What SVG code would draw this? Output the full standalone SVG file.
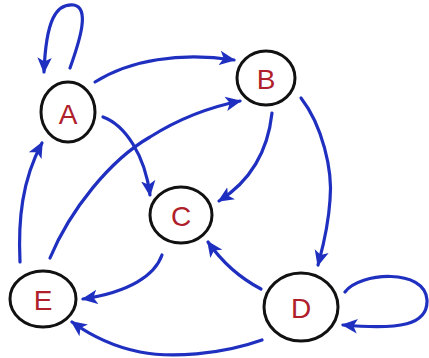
<svg xmlns="http://www.w3.org/2000/svg" width="429" height="358" viewBox="0 0 429 358">
<style>
.node ellipse{fill:none;stroke:#111;stroke-width:3}
.node text{font-family:"Liberation Sans",Arial,sans-serif;font-size:28px;fill:#b0202a;text-anchor:middle;dominant-baseline:central}
.edge{fill:none;stroke:#1f2fc0;stroke-width:3.2;stroke-linecap:round;marker-end:url(#ah)}
</style>
<defs>
<marker id="ah" viewBox="0 0 10 10" refX="9" refY="5" markerWidth="16" markerHeight="16" markerUnits="userSpaceOnUse" orient="auto">
<path d="M0,0.5 L10,5 L0,9.5 L2.5,5 z" fill="#1f2fc0"/>
</marker>
</defs>
<rect width="429" height="358" fill="#fff"/>
<g id="connectors">
<path class="edge" d="M70,68 C80,40 90,8 74,5 C56,3 46,20 44,72"/>
<path class="edge" d="M95,82 C130,60 180,52 234,60"/>
<path class="edge" d="M50,258 C70,210 110,160 150,137 C180,118 210,107 240,101"/>
<path class="edge" d="M103,117 C125,125 145,155 150,195"/>
<path class="edge" d="M20,262 C18,220 22,180 42,143"/>
<path class="edge" d="M272,113 C268,150 252,180 219,201"/>
<path class="edge" d="M301,98 C322,125 333,170 330,200 C328,230 322,250 318,265"/>
<path class="edge" d="M261,289 C240,278 222,262 208,242"/>
<path class="edge" d="M162,255 C155,275 130,292 83,299"/>
<path class="edge" d="M262,340 C220,355 170,358 140,352 C110,346 90,335 72,322"/>
<path class="edge" d="M345,292 C360,272 425,268 427,300 C428,325 400,330 343,325"/>
</g>
<g id="node-A" class="node"><ellipse cx="68" cy="112" rx="27" ry="30"/><text x="68" y="114">A</text></g>
<g id="node-B" class="node"><ellipse cx="266" cy="78" rx="29" ry="27"/><text x="266" y="79">B</text></g>
<g id="node-C" class="node"><ellipse cx="181" cy="215" rx="31" ry="28"/><text x="181" y="216">C</text></g>
<g id="node-E" class="node"><ellipse cx="43" cy="299" rx="33" ry="28"/><text x="43" y="300">E</text></g>
<g id="node-D" class="node"><ellipse cx="301" cy="307" rx="37" ry="34"/><text x="301" y="308">D</text></g>
</svg>
